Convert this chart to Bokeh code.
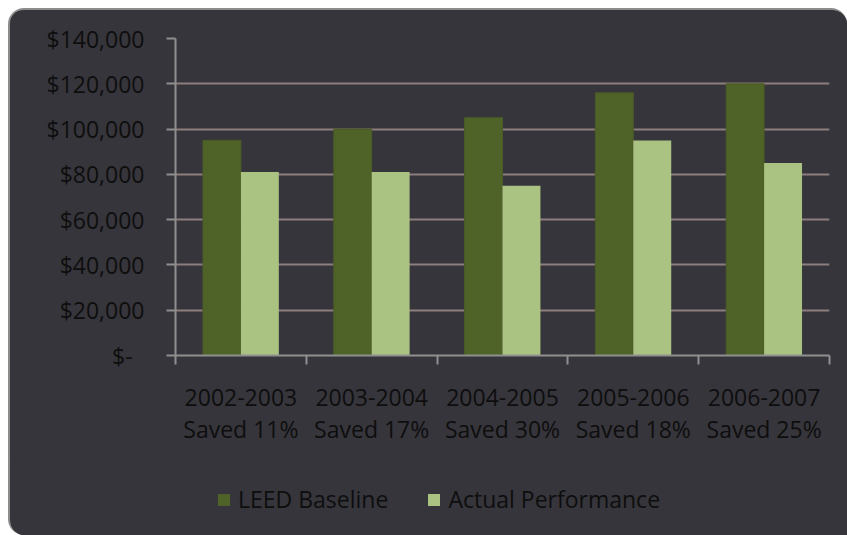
import numpy as np
from bokeh.plotting import figure
from bokeh.layouts import column
from bokeh.models import ColumnDataSource, Range1d, FixedTicker, Legend, LegendItem
from bokeh.embed import file_html
from bokeh.resources import INLINE

# ---- data ----
periods = ["2002-2003", "2003-2004", "2004-2005", "2005-2006", "2006-2007"]
savings = ["Saved 11%", "Saved 17%", "Saved 30%", "Saved 18%", "Saved 25%"]
leed_baseline = [95000, 100000, 105000, 116000, 120000]
actual_performance = [81000, 81000, 75000, 95000, 85000]
y_ticks = [0, 20000, 40000, 60000, 80000, 100000, 120000, 140000]
y_tick_labels = ["$-\u00a0\u00a0", "$20,000", "$40,000", "$60,000", "$80,000",
                 "$100,000", "$120,000", "$140,000"]
series_names = ["LEED Baseline", "Actual Performance"]

BG = "#36353b"
TXT = "#0e0e0e"
FONT = "Open Sans"
FS = "23px"
C_BASE = "#4f6228"
C_ACT = "#abc382"

idx = np.arange(len(periods))
centers = idx + 0.5
src = ColumnDataSource(dict(
    x_base=centers - 0.145,
    x_act=centers + 0.145,
    base=leed_baseline,
    act=actual_performance,
))

p = figure(width=837, height=450, output_backend="svg", toolbar_location=None,
           x_range=Range1d(0, len(periods)), y_range=Range1d(0, 140000),
           min_border_left=165, min_border_right=18, min_border_top=28,
           min_border_bottom=105)
p.background_fill_color = BG
p.border_fill_color = BG
p.outline_line_color = None

p.vbar(x="x_base", top="base", width=0.29, source=src,
       fill_color=C_BASE, line_color="#4a5c26")
p.vbar(x="x_act", top="act", width=0.29, source=src,
       fill_color=C_ACT, line_color=None)

# y axis
p.yaxis.ticker = FixedTicker(ticks=y_ticks, minor_ticks=[])
p.yaxis.major_label_overrides = {t: l for t, l in zip(y_ticks, y_tick_labels)}
p.yaxis.axis_line_color = "#8f8f8f"
p.yaxis.axis_line_width = 2
p.yaxis.major_tick_line_color = "#8f8f8f"
p.yaxis.major_tick_line_width = 2
p.yaxis.major_tick_out = 9
p.yaxis.major_tick_in = 0
p.yaxis.major_label_standoff = 22
p.yaxis.major_label_text_font = FONT
p.yaxis.major_label_text_font_size = FS
p.yaxis.major_label_text_color = TXT

# x axis: labels at category centres, ticks at boundaries
p.xaxis.ticker = FixedTicker(ticks=list(centers), minor_ticks=list(range(len(periods) + 1)))
p.xaxis.major_label_overrides = {float(c): f"{a}\n{b}" for c, a, b in zip(centers, periods, savings)}
p.xaxis.axis_line_color = "#8f8f8f"
p.xaxis.axis_line_width = 2
p.xaxis.major_tick_line_color = None
p.xaxis.major_tick_out = 8
p.xaxis.major_tick_in = 0
p.xaxis.minor_tick_line_color = "#8f8f8f"
p.xaxis.minor_tick_line_width = 2
p.xaxis.minor_tick_out = 9
p.xaxis.minor_tick_in = 0
p.xaxis.major_label_standoff = 16
p.xaxis.major_label_text_font = FONT
p.xaxis.major_label_text_font_size = FS
p.xaxis.major_label_text_color = TXT
p.xaxis.major_label_text_line_height = 1.0

p.xgrid.grid_line_color = None
p.ygrid.ticker = FixedTicker(ticks=y_ticks[1:])
p.ygrid.grid_line_color = "#8c7e7c"
p.ygrid.grid_line_width = 2

# legend strip below the chart (same series, kept far out of its view range)
q = figure(width=837, height=75, output_backend="svg", toolbar_location=None,
           x_axis_type=None, y_axis_type=None,
           x_range=Range1d(0, len(periods)), y_range=Range1d(1e7, 2e7),
           min_border=0)
q.background_fill_color = BG
q.border_fill_color = BG
q.outline_line_color = None
q.grid.visible = False
l1 = q.vbar(x="x_base", top="base", width=0.29, source=src,
            fill_color=C_BASE, line_color=None)
l2 = q.vbar(x="x_act", top="act", width=0.29, source=src,
            fill_color=C_ACT, line_color=None)
legend = Legend(items=[LegendItem(label=series_names[0], renderers=[l1]),
                       LegendItem(label=series_names[1], renderers=[l2])],
                orientation="horizontal", location=(41, 20),
                background_fill_alpha=0, border_line_color=None,
                padding=0, margin=0, spacing=38, label_standoff=7,
                glyph_width=15, glyph_height=15,
                label_text_font=FONT, label_text_font_size=FS,
                label_text_color=TXT)
q.add_layout(legend, "center")

card = column(p, q, spacing=0)
card.margin = (8, 0, 0, 8)
card.styles = {"background-color": BG,
               "border-top-left-radius": "16px", "border-top-right-radius": "16px",
               "border-bottom-left-radius": "16px", "overflow": "hidden",
               "border-top": "2px solid #8d8d8d", "border-left": "2px solid #8d8d8d"}

open("out.html", "w").write(file_html(card, INLINE))
